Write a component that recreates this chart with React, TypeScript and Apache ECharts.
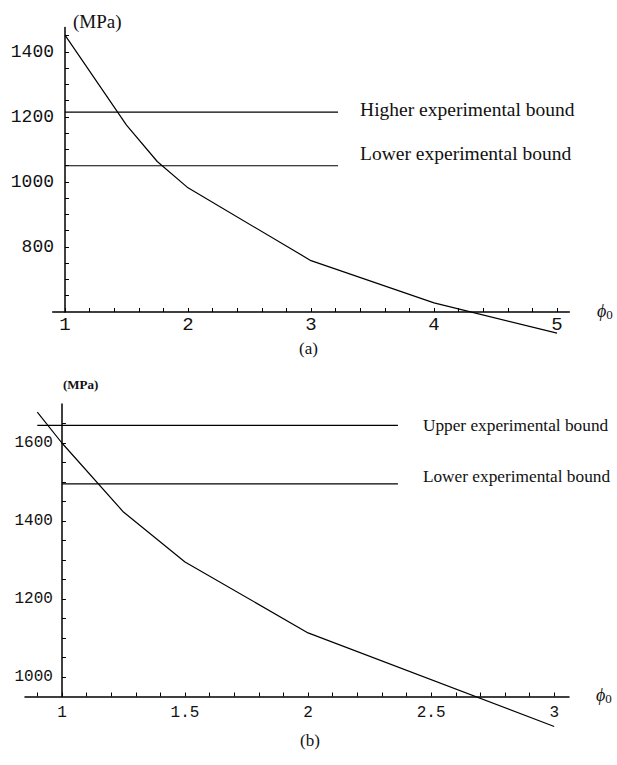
import React, { useEffect, useRef } from "react";
import * as echarts from "echarts";

// ---- Chart (a) data ----
const curveA: [number, number][] = [
  [1, 1452], [1.5, 1175], [1.75, 1063], [2, 982], [3, 758], [4, 628], [5, 535],
];
const higherA: [number, number][] = [[1, 1215], [3.22, 1215]];
const lowerA: [number, number][] = [[1, 1050], [3.22, 1050]];
const xLabelsA = [1, 2, 3, 4, 5];
const xTicksA = [1, 1.2, 1.4, 1.6, 1.8, 2, 2.2, 2.4, 2.6, 2.8, 3, 3.2, 3.4, 3.6, 3.8, 4, 4.2, 4.4, 4.6, 4.8, 5];
const yLabelsA = [800, 1000, 1200, 1400];
const yTicksA = [650, 700, 750, 800, 850, 900, 950, 1000, 1050, 1100, 1150, 1200, 1250, 1300, 1350, 1400, 1450];

// ---- Chart (b) data ----
const curveB: [number, number][] = [
  [0.9, 1679], [1, 1600], [1.25, 1423], [1.5, 1295], [2, 1113], [3, 873],
];
const upperB: [number, number][] = [[0.9, 1645], [2.365, 1645]];
const lowerB: [number, number][] = [[1, 1495], [2.365, 1495]];
const xLabelsB = [1, 1.5, 2, 2.5, 3];
const xTicksB = [0.9, 1, 1.1, 1.2, 1.3, 1.4, 1.5, 1.6, 1.7, 1.8, 1.9, 2, 2.1, 2.2, 2.3, 2.4, 2.5, 2.6, 2.7, 2.8, 2.9, 3];
const yLabelsB = [1000, 1200, 1400, 1600];
const yTicksB = [1000, 1050, 1100, 1150, 1200, 1250, 1300, 1350, 1400, 1450, 1500, 1550, 1600, 1650];

const MONO = "'Liberation Mono', 'DejaVu Sans Mono', monospace";
const SERIF = "'Liberation Serif', 'DejaVu Serif', serif";

export default function App() {
  const ref = useRef<HTMLDivElement>(null);
  useEffect(() => {
    if (!ref.current) return;
    const chart = echarts.init(ref.current, undefined, { renderer: "svg" });

    const gA = { left: 52.7, top: 27.6, width: 516.6, height: 284.4 };
    const gB = { left: 25, top: 404, width: 544, height: 292.5 };
    const xMinA = 0.9, xMaxA = 5.1;
    const xMinB = 0.85, xMaxB = 3.06;
    const offA = -((1 - xMinA) / (xMaxA - xMinA)) * gA.width;
    const offB = -((1 - xMinB) / (xMaxB - xMinB)) * gB.width;

    const axisLine = { show: true, onZero: false, lineStyle: { color: "#000", width: 1.5 } };
    const tick = (vals: number[]) => ({
      show: true, inside: true, length: 4, customValues: vals,
      lineStyle: { color: "#000", width: 1 },
    });
    const plain = (v: number) => String(v);

    const lineStyle = { color: "#000", width: 1.2 };
    const boundLabel = (size: number, dy: number, dist: number) => ({
      show: true, formatter: "{a}", distance: dist, offset: [0, dy],
      fontFamily: SERIF, fontSize: size, color: "#111",
    });
    const phi = (left: number, top: number) => ({
      type: "text", left, top,
      style: {
        text: "{p|ϕ}{s|0}",
        rich: {
          p: { fontFamily: SERIF, fontStyle: "italic", fontSize: 18, fill: "#111" },
          s: { fontFamily: SERIF, fontSize: 13, fill: "#111", padding: [6, 0, 0, 0] },
        },
      },
    });

    chart.setOption({
      animation: false,
      backgroundColor: "#fff",
      grid: [
        { ...gA, containLabel: false },
        { ...gB, containLabel: false },
      ],
      xAxis: [
        {
          type: "value", gridIndex: 0, min: xMinA, max: xMaxA,
          axisLine, axisTick: tick(xTicksA), splitLine: { show: false },
          axisLabel: {
            customValues: xLabelsA, margin: 3, fontFamily: MONO, fontSize: 19,
            color: "#111", formatter: plain,
          },
        },
        {
          type: "value", gridIndex: 1, min: xMinB, max: xMaxB,
          axisLine, axisTick: tick(xTicksB), splitLine: { show: false },
          axisLabel: {
            customValues: xLabelsB, margin: 8, fontFamily: MONO, fontSize: 16,
            color: "#111", formatter: plain,
          },
        },
      ],
      yAxis: [
        {
          type: "value", gridIndex: 0, min: 600, max: 1475, offset: offA,
          axisLine, axisTick: tick(yTicksA), splitLine: { show: false },
          axisLabel: {
            customValues: yLabelsA, margin: 11, fontFamily: MONO, fontSize: 18,
            color: "#111", formatter: plain,
          },
        },
        {
          type: "value", gridIndex: 1, min: 950, max: 1700, offset: offB,
          axisLine, axisTick: tick(yTicksB), splitLine: { show: false },
          axisLabel: {
            customValues: yLabelsB, margin: 9, fontFamily: MONO, fontSize: 16,
            color: "#111", formatter: plain,
          },
        },
      ],
      series: [
        {
          type: "line", name: "curve a", xAxisIndex: 0, yAxisIndex: 0, data: curveA,
          showSymbol: false, clip: false, lineStyle,
        },
        {
          type: "line", name: "Higher experimental bound", xAxisIndex: 0, yAxisIndex: 0,
          data: higherA, showSymbol: false, clip: false, lineStyle,
          endLabel: boundLabel(19.5, -3, 22),
        },
        {
          type: "line", name: "Lower experimental bound", xAxisIndex: 0, yAxisIndex: 0,
          data: lowerA, showSymbol: false, clip: false, lineStyle,
          endLabel: boundLabel(19.5, -12, 22),
        },
        {
          type: "line", name: "curve b", xAxisIndex: 1, yAxisIndex: 1, data: curveB,
          showSymbol: false, clip: false, lineStyle,
        },
        {
          type: "line", name: "Upper experimental bound", xAxisIndex: 1, yAxisIndex: 1,
          data: upperB, showSymbol: false, clip: false, lineStyle,
          endLabel: boundLabel(17.3, 0, 25),
        },
        {
          type: "line", name: "Lower experimental bound", xAxisIndex: 1, yAxisIndex: 1,
          data: lowerB, showSymbol: false, clip: false, lineStyle,
          endLabel: boundLabel(17.3, -7, 25),
        },
      ],
      graphic: [
        {
          type: "text", left: 73, top: 12,
          style: { text: "(MPa)", fontFamily: SERIF, fontSize: 19, fill: "#111" },
        },
        phi(597, 302),
        {
          type: "text", left: 299, top: 340,
          style: { text: "(a)", fontFamily: SERIF, fontSize: 17, fill: "#111" },
        },
        {
          type: "text", left: 63, top: 378,
          style: { text: "(MPa)", fontFamily: SERIF, fontSize: 13, fontWeight: "bold", fill: "#111" },
        },
        phi(596, 686),
        {
          type: "text", left: 300, top: 732,
          style: { text: "(b)", fontFamily: SERIF, fontSize: 17, fill: "#111" },
        },
      ],
    });
    return () => chart.dispose();
  }, []);
  return (
    <div
      ref={ref}
      style={{ position: "absolute", left: 0, top: 0, width: 617, height: 765 }}
    />
  );
}
